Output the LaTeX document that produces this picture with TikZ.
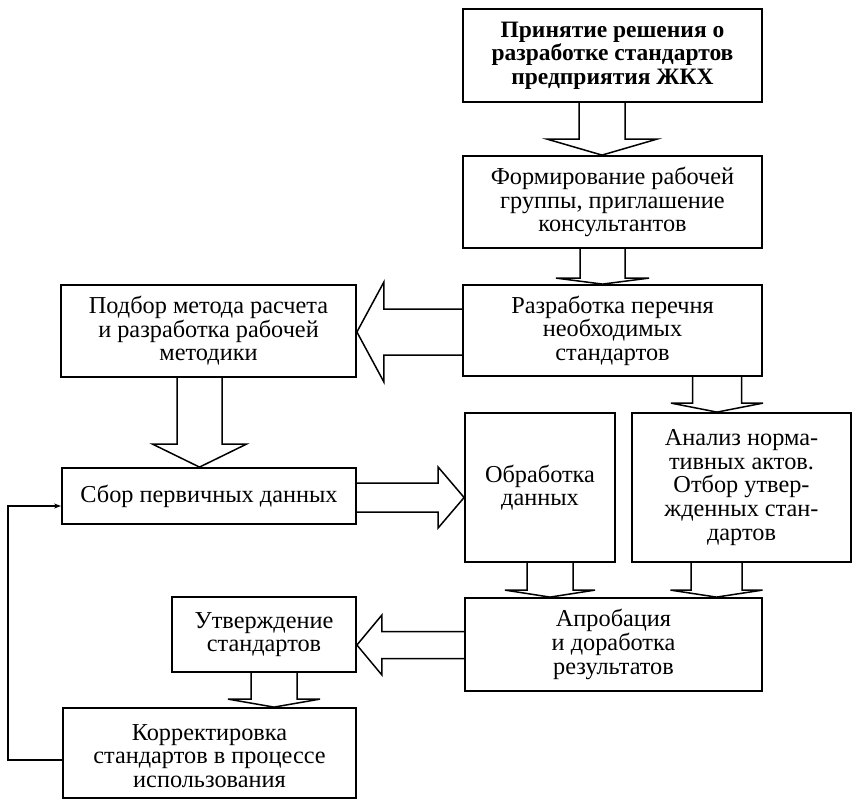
\documentclass[tikz,border=0pt]{standalone}
\usepackage{fontspec}
\setmainfont{Liberation Serif}
\usetikzlibrary{calc,arrows.meta}
\newcommand\dnblk[5]{\draw[blk] ($(#1)+(-#3,0)$) -- ($(#2)+(-#3,-#5)$) -- ($(#2)+(-#4,-#5)$) -- (#2) -- ($(#2)+(#4,-#5)$) -- ($(#2)+(#3,-#5)$) -- ($(#1)+(#3,0)$);}
\newcommand\ltblk[5]{\draw[blk] ($(#1)+(0,-#3)$) -- ($(#2)+(#5,-#3)$) -- ($(#2)+(#5,-#4)$) -- (#2) -- ($(#2)+(#5,#4)$) -- ($(#2)+(#5,#3)$) -- ($(#1)+(0,#3)$);}
\newcommand\rtblk[5]{\draw[blk] ($(#1)+(0,-#3)$) -- ($(#2)+(-#5,-#3)$) -- ($(#2)+(-#5,-#4)$) -- (#2) -- ($(#2)+(-#5,#4)$) -- ($(#2)+(-#5,#3)$) -- ($(#1)+(0,#3)$);}
\begin{document}
\begin{tikzpicture}[x=1pt,y=-1pt,
  box/.style={draw,line width=1.8pt,inner sep=0pt,align=center,
    font=\fontsize{24.3}{23.6}\selectfont},
  blk/.style={draw,line width=1.5pt,line join=miter},
  fb/.style={draw,line width=1.5pt,-{Stealth[length=7pt,width=5pt]}}]
\useasboundingbox (0,0) rectangle (853,800);
\node[box,minimum width=299pt,minimum height=93pt,font=\fontsize{23.5}{23.6}\selectfont\bfseries] (top) at (612.5,55.5)
  {Принятие решения о\\разработке стандартов\\предприятия ЖКХ};
\node[box,minimum width=299pt,minimum height=92pt] (form) at (612.5,202)
  {Формирование рабочей\\группы, приглашение\\консультантов};
\node[box,minimum width=299pt,minimum height=91pt] (razrab) at (612.5,330.5)
  {Разработка перечня\\необходимых\\стандартов};
\node[box,minimum width=295pt,minimum height=92pt] (podbor) at (208.5,331)
  {Подбор метода расчета\\и разработка рабочей\\методики};
\node[box,minimum width=294pt,minimum height=56pt] (sbor) at (209,496)
  {Сбор первичных данных};
\node[box,minimum width=150pt,minimum height=149pt] (obrab) at (540,487.5)
  {Обработка\\данных};
\node[box,minimum width=219pt,minimum height=149pt] (analiz) at (741.5,487.5)
  {Анализ норма-\\тивных актов.\\Отбор утвер-\\жденных стан-\\дартов};
\node[box,minimum width=297pt,minimum height=93pt] (apro) at (613.5,644.5)
  {Апробация\\и доработка\\результатов};
\node[box,minimum width=184pt,minimum height=75pt] (utv) at (264,634.5)
  {Утверждение\\стандартов};
\node[box,minimum width=293pt,minimum height=90pt] (korr) at (209.5,753)
  {\rule{0pt}{22pt}Корректировка\\стандартов в процессе\\использования};
\coordinate (c1) at (602,0);
\coordinate (c2) at (602.5,0);
\coordinate (c4) at (199.5,0);
\coordinate (c6) at (717,0);
\coordinate (c7) at (550,0);
\coordinate (c8) at (716.5,0);
\coordinate (c10) at (274,0);
\coordinate (r3) at (0,332);
\coordinate (r5) at (0,497.5);
\coordinate (r9) at (0,645);
\dnblk{top.south -| c1}{form.north -| c1}{23}{55}{16}
\dnblk{form.south -| c2}{razrab.north -| c2}{22.5}{46.5}{6}
\ltblk{razrab.west |- r3}{podbor.east |- r3}{23}{50}{27}
\dnblk{podbor.south -| c4}{sbor.north -| c4}{22.5}{47}{23}
\rtblk{sbor.east |- r5}{obrab.west |- r5}{14.5}{30.5}{26}
\dnblk{razrab.south -| c6}{analiz.north -| c6}{24.5}{46}{9}
\dnblk{obrab.south -| c7}{apro.north -| c7}{23}{45}{7}
\dnblk{analiz.south -| c8}{apro.north -| c8}{25.5}{46}{7}
\ltblk{apro.west |- r9}{utv.east |- r9}{13.5}{30}{25}
\dnblk{utv.south -| c10}{korr.north -| c10}{23}{46}{8}
\coordinate (fb1) at (8,760);
\coordinate (fb2) at (8,506);
\draw[fb] (korr.west |- fb1) -- (fb1) -- (fb2) -- (sbor.west |- fb2);
\end{tikzpicture}
\end{document}
